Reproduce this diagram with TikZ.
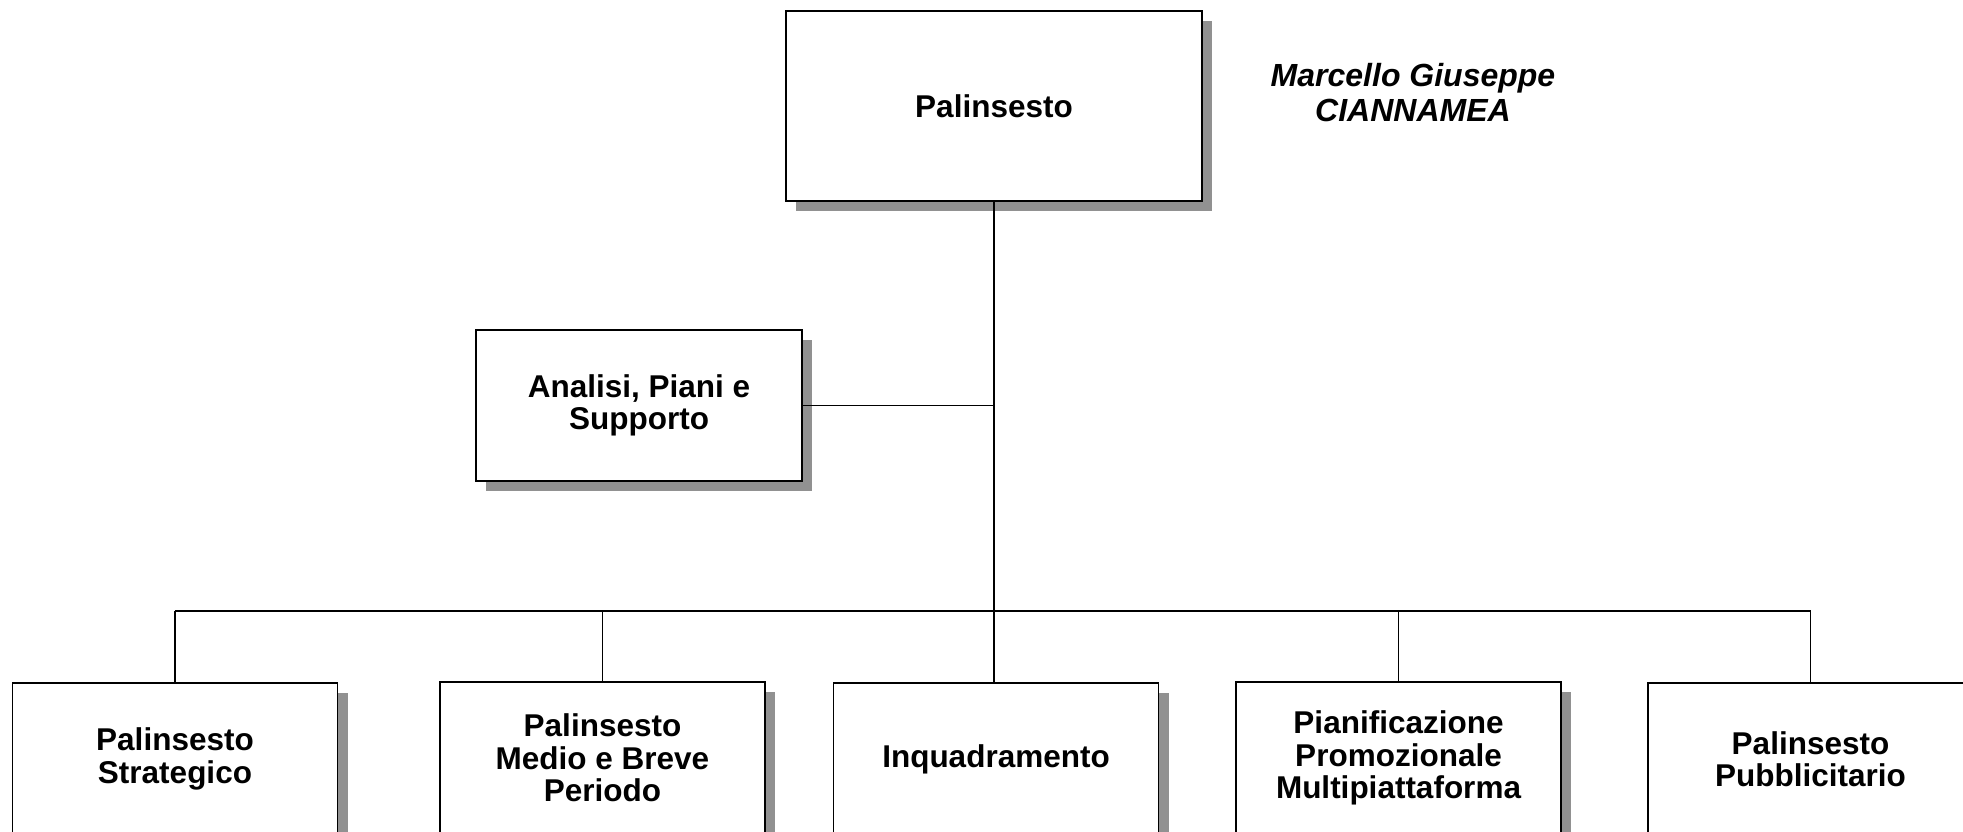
\documentclass[tikz,border=0pt]{standalone}
\usepackage{fontspec}
\setmainfont{Liberation Sans}
\usetikzlibrary{positioning,shadows}
\definecolor{shadowgray}{RGB}{145,145,145}

\begin{document}
\begin{tikzpicture}[x=1pt,y=-1pt]

  \tikzset{
    box/.style={draw,line width=1.6pt,fill=white,align=center,inner sep=0pt,
      font=\fontsize{31.5}{32.5}\selectfont\bfseries,
      drop shadow={shadow xshift=10pt,shadow yshift=-10pt,fill=shadowgray,opacity=1}},
    unit/.style={box,minimum width=325pt,minimum height=152pt},
    link/.style={line width=1.4pt},
  }

  \useasboundingbox (0,0) rectangle (1963,832);

  \node[box,minimum width=416pt,minimum height=190pt] (top) at (994,106) {Palinsesto};
  \node[align=center,font=\fontsize{32}{35}\selectfont\bfseries\itshape] (name) at (1413,93) {Marcello Giuseppe\\CIANNAMEA};

  \node[box,minimum width=326pt,minimum height=151pt] (analisi) at (639,405.5) {Analisi, Piani e\\Supporto};

  % bottom row
  \node[unit] (strat)   at (175,759)    {Palinsesto\\Strategico};
  \node[unit] (medio)   at (602.5,758)  {Palinsesto\\Medio e Breve\\Periodo};
  \node[unit] (inquadr) at (996,759)    {Inquadramento};
  \node[unit] (pianif)  at (1398.5,758) {Pianificazione\\Promozionale\\Multipiattaforma};
  \node[unit] (pubbl)   at (1810.5,759) {Palinsesto\\Pubblicitario};

  \coordinate (bus) at (994,611);

  \draw[link] (top.south) -- (top.south |- inquadr.north);
  \draw[link] (analisi.east) -- (analisi.east -| top.south);
  \draw[link] (strat.north |- bus) -- (pubbl.north |- bus);
  \draw[link] (strat.north) -- (strat.north |- bus);
  \draw[link] (medio.north) -- (medio.north |- bus);
  \draw[link] (pianif.north) -- (pianif.north |- bus);
  \draw[link] (pubbl.north) -- (pubbl.north |- bus);

\end{tikzpicture}
\end{document}
